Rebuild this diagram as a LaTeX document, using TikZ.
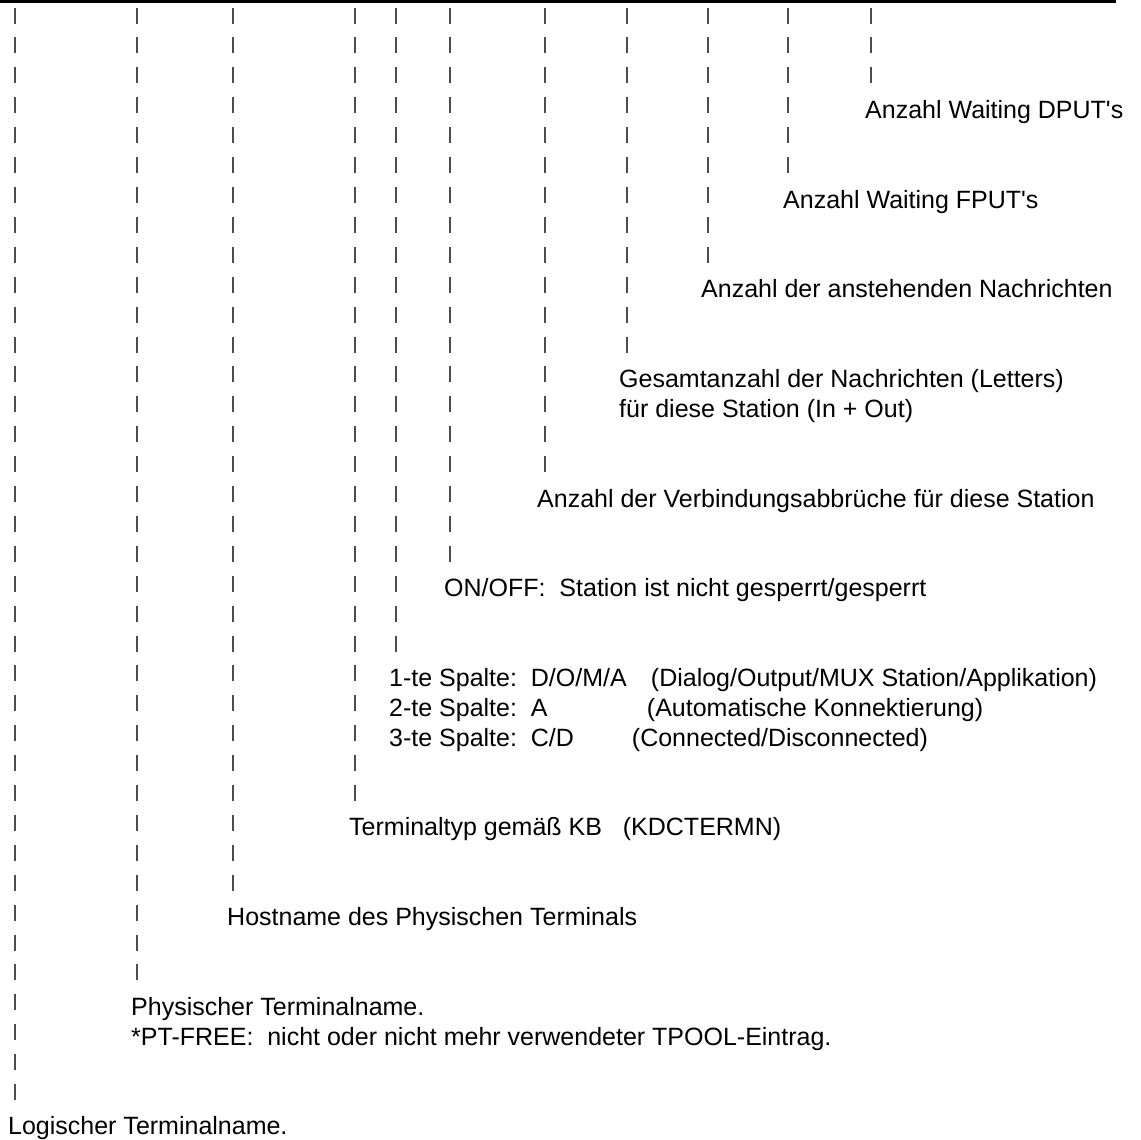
\documentclass[tikz,border=0pt]{standalone}
\usepackage{fontspec}
\setmainfont{Liberation Sans}

\tikzset{
  vbar/.style={line width=1.2pt, black!70},
  legend/.style={anchor=base west, inner sep=0pt, font=\fontsize{25}{30}\selectfont},
}

\begin{document}
\begin{tikzpicture}[x=1pt,y=-1pt]
\useasboundingbox (0,0) rectangle (1141,1140);

%% top rule
\coordinate (ruleL) at (0,1.4);
\coordinate (ruleR) at (1116,1.4);
\draw[line width=2.8pt] (ruleL) -- (ruleR);

%% tick columns (x / last row)
\foreach \cx/\last in {15/36, 137/32, 233/29, 355/26, 396/21, 450/18,
                       545/15, 627/11, 708/8, 788/5, 871/2}{
  \foreach \r in {0,...,\last}{
    \draw[vbar] (\cx,{7.6+29.9*\r}) -- (\cx,{23.6+29.9*\r});
  }
}

%% labels
\node[legend] (dput) at (865,118.3) {Anzahl Waiting DPUT\textquotesingle s};
\node[legend] (fput) at (783,208) {Anzahl Waiting FPUT\textquotesingle s};
\node[legend] (anst) at (701,297.7) {Anzahl der anstehenden Nachrichten};
\node[legend] (gesamt) at (619,387.4) {Gesamtanzahl der Nachrichten (Letters)};
\node[legend] (gesamtB) at (619,417.3) {für diese Station (In + Out)};
\node[legend] (abbruch) at (537,507) {Anzahl der Verbindungsabbrüche für diese Station};
\node[legend] (onoff) at (444,596.7) {ON/OFF:\ \ Station ist nicht gesperrt/gesperrt};
\node[legend] (spalteA) at (389,686.4) {1-te Spalte:\ \ \makebox[120pt][l]{D/O/M/A}(Dialog/Output/MUX Station/Applikation)};
\node[legend] (spalteB) at (389,716.3) {2-te Spalte:\ \ \makebox[116pt][l]{A}(Automatische Konnektierung)};
\node[legend] (spalteC) at (389,746.2) {3-te Spalte:\ \ \makebox[101pt][l]{C/D}(Connected/Disconnected)};
\node[legend] (typ) at (349,835.9) {Terminaltyp gemäß KB\ \ \ (KDCTERMN)};
\node[legend] (host) at (227,925.6) {Hostname des Physischen Terminals};
\node[legend] (phys) at (131,1015.3) {Physischer Terminalname.};
\node[legend] (physB) at (131,1045.2) {*PT-FREE:\ \ nicht oder nicht mehr verwendeter TPOOL-Eintrag.};
\node[legend] (logic) at (8,1134.9) {Logischer Terminalname.};

\end{tikzpicture}
\end{document}
